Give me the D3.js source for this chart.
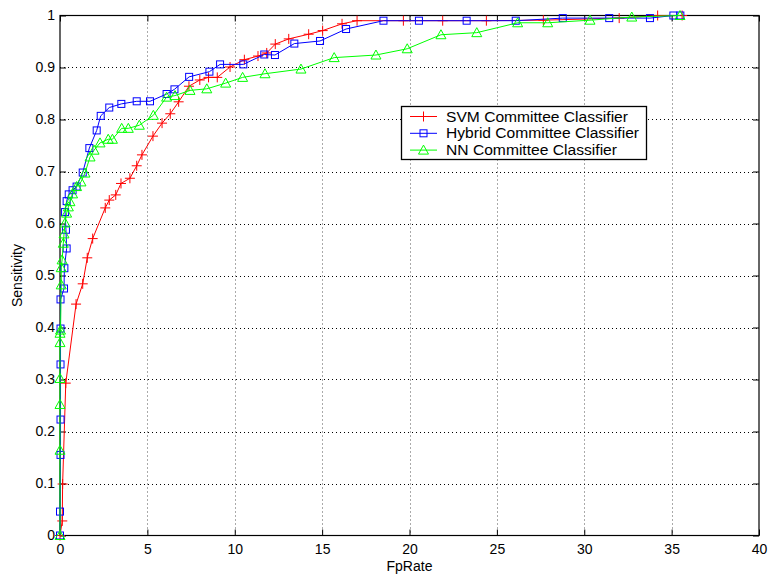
<!DOCTYPE html>
<html>
<head>
<meta charset="utf-8">
<script src="https://cdn.jsdelivr.net/npm/d3@7"></script>
<style>
  body { margin: 0; background: #fff; }
  svg { display: block; }
  text { font-family: "Liberation Sans", Arial, Helvetica, sans-serif; }
</style>
</head>
<body>
<svg id="chart" width="771" height="580"></svg>
<script>
// ---- data ----
const xTicks = [0, 5, 10, 15, 20, 25, 30, 35, 40];
const xTickLabels = ["0", "5", "10", "15", "20", "25", "30", "35", "40"];
const yTicks = [0, 0.1, 0.2, 0.3, 0.4, 0.5, 0.6, 0.7, 0.8, 0.9, 1];
const yTickLabels = ["0", "0.1", "0.2", "0.3", "0.4", "0.5", "0.6", "0.7", "0.8", "0.9", "1"];
const seriesNames = ["SVM Committee Classifier", "Hybrid Committee Classifier", "NN Committee Classifier"];

const svmFp = [0, 0.13, 0.15, 0.33, 0.92, 1.3, 1.56, 1.87, 2.59, 2.82, 3.19, 3.49, 4.0, 4.39, 4.69, 5.32, 5.84, 6.31, 6.79, 7.38, 8.0, 8.5, 9.0, 9.73, 10.55, 11.33, 11.83, 12.32, 13.09, 14.23, 15.03, 16.14, 17.0, 19.65, 21.9, 24.4, 27.66, 32.0, 34.2, 35.6];
const svmSens = [0, 0.028, 0.099, 0.293, 0.445, 0.484, 0.534, 0.571, 0.630, 0.645, 0.655, 0.677, 0.687, 0.711, 0.732, 0.768, 0.793, 0.811, 0.834, 0.864, 0.876, 0.881, 0.881, 0.901, 0.915, 0.922, 0.928, 0.945, 0.955, 0.964, 0.971, 0.984, 0.990, 0.990, 0.990, 0.990, 0.991, 0.995, 1.0, 1.0];

const hybFp = [0, 0.0, 0.03, 0.03, 0.03, 0.03, 0.03, 0.23, 0.25, 0.38, 0.34, 0.29, 0.38, 0.5, 0.72, 0.95, 1.3, 1.68, 2.1, 2.33, 2.82, 3.51, 4.39, 5.15, 6.1, 6.55, 7.39, 8.55, 9.16, 10.49, 11.69, 12.3, 13.41, 14.88, 16.37, 18.51, 20.54, 23.27, 26.08, 28.77, 31.43, 33.76, 35.1, 35.5];
const hybSens = [0, 0.046, 0.155, 0.223, 0.329, 0.398, 0.454, 0.475, 0.514, 0.552, 0.588, 0.622, 0.643, 0.656, 0.664, 0.671, 0.698, 0.745, 0.779, 0.807, 0.823, 0.830, 0.835, 0.835, 0.849, 0.858, 0.882, 0.892, 0.906, 0.906, 0.925, 0.924, 0.946, 0.951, 0.974, 0.990, 0.990, 0.990, 0.990, 0.995, 0.995, 0.995, 1.0, 1.0];

const nnFp = [0, 0, 0, 0, 0, 0, 0.03, 0.07, 0.07, 0.12, 0.19, 0.23, 0.29, 0.38, 0.48, 0.57, 0.72, 0.95, 1.2, 1.43, 1.72, 1.95, 2.29, 2.76, 3.0, 3.53, 3.91, 4.54, 5.34, 6.1, 6.58, 7.44, 8.4, 9.48, 10.45, 11.73, 13.79, 15.69, 18.08, 19.87, 21.8, 23.85, 26.19, 27.91, 30.33, 32.72, 35.48];
const nnSens = [0, 0.164, 0.252, 0.302, 0.371, 0.389, 0.395, 0.482, 0.515, 0.530, 0.562, 0.580, 0.601, 0.620, 0.632, 0.642, 0.657, 0.671, 0.680, 0.697, 0.728, 0.741, 0.755, 0.762, 0.762, 0.783, 0.783, 0.789, 0.808, 0.843, 0.846, 0.856, 0.859, 0.870, 0.881, 0.888, 0.897, 0.919, 0.924, 0.936, 0.963, 0.967, 0.986, 0.986, 0.991, 0.997, 1.0];

// ---- layout ----
const svg = d3.select("#chart");
const L = 60, R = 759, T = 15.5, B = 535.5;
const x = d3.scaleLinear().domain([0, 40]).range([L, R]);
const y = d3.scaleLinear().domain([0, 1]).range([B, T]);

// grid
const grid = svg.append("g").attr("stroke", "#000").attr("stroke-width", 1).attr("stroke-dasharray", "1,3");
grid.selectAll("line.v").data(xTicks.slice(1, -1)).enter().append("line")
  .attr("x1", d => Math.round(x(d)) + 0.5).attr("x2", d => Math.round(x(d)) + 0.5)
  .attr("y1", T).attr("y2", B).attr("stroke", "#555");
grid.selectAll("line.h").data(yTicks.slice(1, -1)).enter().append("line")
  .attr("y1", d => Math.round(y(d)) + 0.5).attr("y2", d => Math.round(y(d)) + 0.5)
  .attr("x1", L).attr("x2", R);

// axes
const tk = 6;
const xi = xTicks.map((d, i) => [d, xTickLabels[i]]);
const yi = yTicks.map((d, i) => [d, yTickLabels[i]]);
const axB = svg.append("g").attr("transform", `translate(0,${B})`)
  .call(d3.axisBottom(x).tickValues(xTicks).tickSize(-tk).tickPadding(9)
    .tickFormat((d, i) => xTickLabels[i]));
const axT = svg.append("g").attr("transform", `translate(0,${T})`)
  .call(d3.axisTop(x).tickValues(xTicks).tickSize(-tk).tickFormat(""));
const axLft = svg.append("g").attr("transform", `translate(${L},0)`)
  .call(d3.axisLeft(y).tickValues(yTicks).tickSize(-tk).tickPadding(5)
    .tickFormat((d, i) => yTickLabels[i]));
const axRt = svg.append("g").attr("transform", `translate(${R},0)`)
  .call(d3.axisRight(y).tickValues(yTicks).tickSize(-tk).tickFormat(""));
[axB, axT, axLft, axRt].forEach(a => {
  a.select(".domain").remove();
  a.selectAll("line").attr("stroke", "#000");
  a.selectAll("text").attr("font-size", 14).attr("fill", "#000")
    .attr("font-family", "'Liberation Sans', Arial, sans-serif");
});
// frame
svg.append("rect").attr("x", L).attr("y", T).attr("width", R - L).attr("height", B - T)
  .attr("fill", "none").attr("stroke", "#000").attr("stroke-width", 1.2);

// axis labels
svg.append("text").attr("x", (L + R) / 2).attr("y", 571).attr("text-anchor", "middle")
  .attr("font-size", 14).text("FpRate");
svg.append("text").attr("transform", `translate(22,${(T + B) / 2}) rotate(-90)`)
  .attr("text-anchor", "middle").attr("font-size", 14).text("Sensitivity");

// markers
const markers = {
  plus: g => g.append("path").attr("d", "M-5,0H5M0,-5V5"),
  square: g => g.append("rect").attr("x", -3.5).attr("y", -3.5).attr("width", 7).attr("height", 7),
  tri: g => g.append("path").attr("d", "M0,-5L5,4L-5,4Z")
};
const series = [
  { name: seriesNames[0], xs: svmFp, ys: svmSens, color: "#ff0000", m: "plus" },
  { name: seriesNames[1], xs: hybFp, ys: hybSens, color: "#0000ff", m: "square" },
  { name: seriesNames[2], xs: nnFp, ys: nnSens, color: "#00ff00", m: "tri" }
];
const line = d3.line().x(d => x(d[0])).y(d => y(d[1]));
const plot = svg.append("g");
series.forEach(s => {
  const pts = s.xs.map((v, i) => [v, s.ys[i]]);
  plot.append("path").datum(pts).attr("d", line).attr("fill", "none")
    .attr("stroke", s.color).attr("stroke-width", 1);
  const mg = plot.append("g").attr("fill", "none").attr("stroke", s.color).attr("stroke-width", 1);
  pts.forEach(p => {
    const g = mg.append("g").attr("transform", `translate(${x(p[0])},${y(p[1])})`);
    markers[s.m](g);
  });
});

// legend
const lg = svg.append("g");
lg.append("rect").attr("x", 401.5).attr("y", 106.5).attr("width", 245).attr("height", 53)
  .attr("fill", "#fff").attr("stroke", "#000").attr("stroke-width", 1.3);
const lens = [182, 193, 171];
series.forEach((s, i) => {
  const yy = 116.5 + i * 16.8;
  lg.append("line").attr("x1", 410).attr("x2", 437).attr("y1", yy).attr("y2", yy)
    .attr("stroke", s.color).attr("stroke-width", 1);
  const g = lg.append("g").attr("transform", `translate(423.5,${yy})`)
    .attr("fill", "none").attr("stroke", s.color).attr("stroke-width", 1);
  markers[s.m](g);
  lg.append("text").attr("x", 446).attr("y", yy + 5).attr("font-size", 14)
    .attr("textLength", lens[i]).attr("lengthAdjust", "spacingAndGlyphs").text(s.name);
});
</script>
</body>
</html>
